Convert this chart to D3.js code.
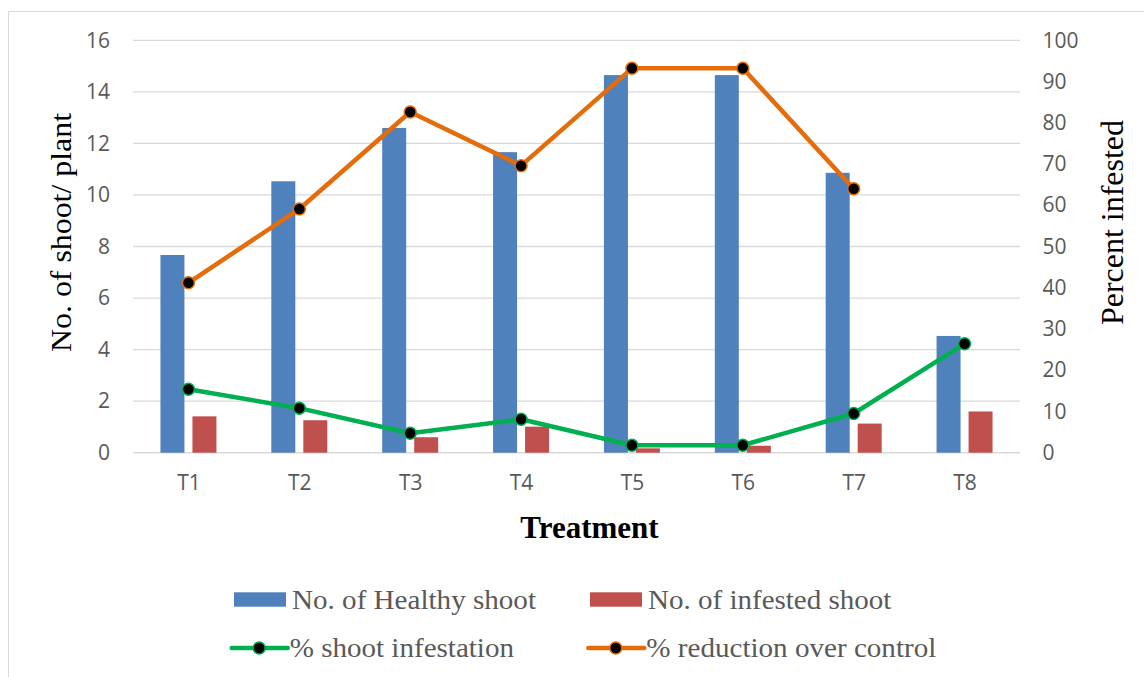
<!DOCTYPE html>
<html>
<head>
<meta charset="utf-8">
<script src="https://cdn.jsdelivr.net/npm/d3@7"></script>
<style>
  html, body { margin: 0; padding: 0; background: #fff; }
  svg { display: block; }
</style>
</head>
<body>
<svg id="chart" width="1144" height="677"></svg>
<script>
// Treatments on the category axis
const treatments = ["T1", "T2", "T3", "T4", "T5", "T6", "T7", "T8"];

// Bar series (left axis: number of shoots per plant)
const healthyShoot = [7.67, 10.53, 12.60, 11.66, 14.65, 14.65, 10.86, 4.53];
const infestedShoot = [1.41, 1.26, 0.60, 1.01, 0.17, 0.27, 1.13, 1.60];

// Line series (right axis: percent)
const shootInfestation = [15.4, 10.8, 4.7, 8.1, 1.8, 1.8, 9.5, 26.4];
const reductionOverControl = [41.2, 59.1, 82.6, 69.6, 93.2, 93.2, 64.0, null];

// Axis ticks
const leftTicks = [0, 2, 4, 6, 8, 10, 12, 14, 16];
const rightTicks = [0, 10, 20, 30, 40, 50, 60, 70, 80, 90, 100];

const svg = d3.select("#chart");

const plot = { left: 133, right: 1020, top: 40.3, bottom: 452.7 };
const gridColor = "#d9d9d9";
const tickColor = "#595959";
const colors = {
  healthy: "#4f81bd",
  infested: "#c0504d",
  infestation: "#00b050",
  reduction: "#e46c0a"
};

// Outer chart frame
svg.append("rect")
  .attr("x", 8.5).attr("y", 11.5)
  .attr("width", 1150).attr("height", 680)
  .attr("fill", "none").attr("stroke", gridColor).attr("stroke-width", 1);

// Scales
const x0 = d3.scaleBand()
  .domain(treatments)
  .range([plot.left, plot.right])
  .paddingInner(0.495)
  .paddingOuter(0.2475);

const x1 = d3.scaleBand()
  .domain(["healthy", "infested"])
  .range([0, x0.bandwidth()])
  .paddingInner(0.25);

const xPoint = d3.scalePoint()
  .domain(treatments)
  .range([plot.left, plot.right])
  .padding(0.5);

const yLeft = d3.scaleLinear().domain([0, 16]).range([plot.bottom, plot.top]);
const yRight = d3.scaleLinear().domain([0, 100]).range([plot.bottom, plot.top]);

// Horizontal gridlines from the left axis
svg.append("g")
  .selectAll("line")
  .data(leftTicks)
  .join("line")
  .attr("x1", plot.left).attr("x2", plot.right)
  .attr("y1", d => yLeft(d)).attr("y2", d => yLeft(d))
  .attr("stroke", gridColor)
  .attr("stroke-width", d => d === 0 ? 1.6 : 1.3);

const tickFont = sel => sel
  .attr("fill", tickColor)
  .style("font-family", "'Open Sans', sans-serif")
  .style("font-size", "21px");

// Left axis
const axisL = svg.append("g")
  .attr("transform", `translate(${plot.left - 23},0)`)
  .call(d3.axisLeft(yLeft).tickValues(leftTicks).tickSize(0).tickPadding(0));
axisL.select(".domain").remove();
axisL.selectAll("text").call(tickFont);

// Right axis
const axisR = svg.append("g")
  .attr("transform", `translate(${plot.right + 22.5},0)`)
  .call(d3.axisRight(yRight).tickValues(rightTicks).tickSize(0).tickPadding(0));
axisR.select(".domain").remove();
axisR.selectAll("text").call(tickFont);

// Bottom category axis
const axisB = svg.append("g")
  .attr("transform", `translate(0,${plot.bottom})`)
  .call(d3.axisBottom(xPoint).tickSize(0).tickPadding(22));
axisB.select(".domain").remove();
axisB.selectAll("text").call(tickFont);

// Grouped bars
const barRows = treatments.map((t, i) => ({
  t,
  values: [
    { key: "healthy", v: healthyShoot[i] },
    { key: "infested", v: infestedShoot[i] }
  ]
}));

svg.append("g")
  .selectAll("g")
  .data(barRows)
  .join("g")
  .attr("transform", d => `translate(${x0(d.t)},0)`)
  .selectAll("rect")
  .data(d => d.values)
  .join("rect")
  .attr("x", d => x1(d.key))
  .attr("width", x1.bandwidth())
  .attr("y", d => yLeft(d.v))
  .attr("height", d => yLeft(0) - yLeft(d.v))
  .attr("fill", d => colors[d.key]);

// Line series with round markers
function drawLine(values, color) {
  const pts = treatments.map((t, i) => ({ t, v: values[i] }));
  const line = d3.line()
    .defined(d => d.v !== null)
    .x(d => xPoint(d.t))
    .y(d => yRight(d.v));
  svg.append("path")
    .datum(pts)
    .attr("d", line)
    .attr("fill", "none")
    .attr("stroke", color)
    .attr("stroke-width", 4.5)
    .attr("stroke-linejoin", "round");
  svg.append("g")
    .selectAll("circle")
    .data(pts.filter(d => d.v !== null))
    .join("circle")
    .attr("cx", d => xPoint(d.t))
    .attr("cy", d => yRight(d.v))
    .attr("r", 6)
    .attr("fill", "#000")
    .attr("stroke", color)
    .attr("stroke-width", 1.5);
}
drawLine(reductionOverControl, colors.reduction);
drawLine(shootInfestation, colors.infestation);

// Axis titles
svg.append("text")
  .attr("transform", "translate(71,232.5) rotate(-90)")
  .attr("text-anchor", "middle")
  .attr("textLength", 239)
  .attr("lengthAdjust", "spacingAndGlyphs")
  .style("font-family", "'Liberation Serif', 'Times New Roman', serif")
  .style("font-size", "30px")
  .attr("fill", "#000")
  .text("No. of shoot/ plant");

svg.append("text")
  .attr("transform", "translate(1123,222.5) rotate(-90)")
  .attr("text-anchor", "middle")
  .attr("textLength", 205)
  .attr("lengthAdjust", "spacingAndGlyphs")
  .style("font-family", "'Liberation Serif', 'Times New Roman', serif")
  .style("font-size", "31px")
  .attr("fill", "#000")
  .text("Percent infested");

svg.append("text")
  .attr("x", 589.5).attr("y", 537.7)
  .attr("text-anchor", "middle")
  .style("font-family", "'Liberation Serif', 'Times New Roman', serif")
  .style("font-size", "31px")
  .style("font-weight", "bold")
  .attr("fill", "#000")
  .text("Treatment");

// Legend
const legendItems = [
  { label: "No. of Healthy shoot", type: "bar", color: colors.healthy, x: 234, y: 599.5, len: 244 },
  { label: "No. of infested shoot", type: "bar", color: colors.infested, x: 590, y: 599.5, len: 243.4 },
  { label: "% shoot infestation", type: "line", color: colors.infestation, x: 231.7, y: 648, len: 224.3 },
  { label: "% reduction over control", type: "line", color: colors.reduction, x: 588.3, y: 648, len: 290 }
];

const legend = svg.append("g");
legendItems.forEach(item => {
  const g = legend.append("g").attr("transform", `translate(${item.x},${item.y})`);
  if (item.type === "bar") {
    g.append("rect")
      .attr("x", 0).attr("y", -7.2)
      .attr("width", 52).attr("height", 14.4)
      .attr("fill", item.color);
  } else {
    g.append("line")
      .attr("x1", 0).attr("x2", 56)
      .attr("y1", 0).attr("y2", 0)
      .attr("stroke", item.color)
      .attr("stroke-width", 4.5)
      .attr("stroke-linecap", "round");
    g.append("circle")
      .attr("cx", 27.5).attr("cy", 0).attr("r", 6)
      .attr("fill", "#000")
      .attr("stroke", item.color)
      .attr("stroke-width", 1.5);
  }
  g.append("text")
    .attr("x", 58).attr("y", 9)
    .attr("textLength", item.len)
    .attr("lengthAdjust", "spacingAndGlyphs")
    .style("font-family", "'Liberation Serif', 'Times New Roman', serif")
    .style("font-size", "28px")
    .attr("fill", tickColor)
    .text(item.label);
});
</script>
</body>
</html>
